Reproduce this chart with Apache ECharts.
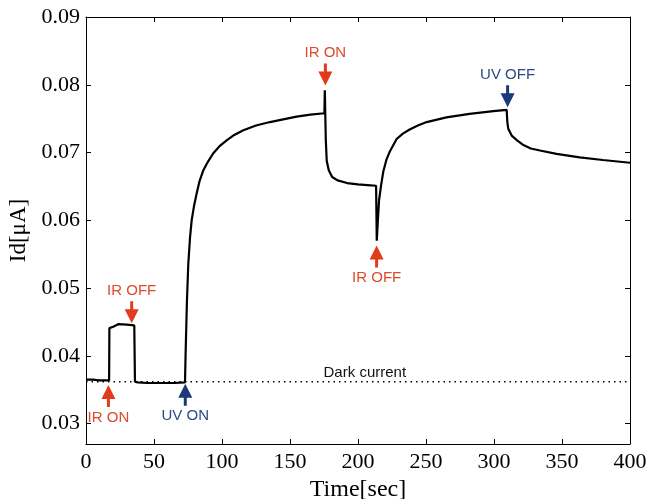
<!DOCTYPE html>
<html>
<head>
<meta charset="utf-8">
<script src="https://cdn.jsdelivr.net/npm/echarts@6.0.0/dist/echarts.min.js"></script>
<style>
  html, body { margin: 0; padding: 0; background: #fff; }
  #main { width: 648px; height: 499px; }
</style>
</head>
<body>
<div id="main"></div>
<script>
// 时间 (sec) 与 暗电流 Id (uA)
var times = [0, 5, 10, 17, 17.2, 20, 24, 30, 35.5, 36, 38, 45, 55, 65, 72.8,
  73.2, 74.2, 75.2, 76.5, 77.7, 79.5, 81.4, 83.5, 86.3, 89.5, 93.6, 98, 103.4, 109, 115.7,
  125, 135.3, 145, 154.9, 165, 175.3, 175.6, 176.3, 177, 178.5, 181, 185, 192, 200, 207, 213.3,
  213.8, 214.6, 215.5, 217, 218.6, 221, 223.5, 228.4, 233, 238, 244, 250.5, 265, 282, 299.5, 309.3,
  309.8, 310.5, 313, 317, 321.6, 327, 333.8, 346, 363, 380, 400];
var currents = [0.0365, 0.0365, 0.0364, 0.0364, 0.0441, 0.0443, 0.0447, 0.0446, 0.0445, 0.0362, 0.0361, 0.0360, 0.0360, 0.0360, 0.0361,
  0.0400, 0.0480, 0.0535, 0.0575, 0.0600, 0.0622, 0.0640, 0.0658, 0.0674, 0.0686, 0.0699, 0.0709, 0.0718, 0.0726, 0.0733,
  0.0740, 0.0745, 0.0749, 0.0753, 0.0756, 0.0758, 0.0792, 0.0720, 0.0688, 0.0674, 0.0664, 0.0659, 0.0655, 0.0653, 0.0652, 0.0651,
  0.0570, 0.0600, 0.0630, 0.0652, 0.0672, 0.0690, 0.0702, 0.0720, 0.0728, 0.0734, 0.0740, 0.0745, 0.0752, 0.0757, 0.0761, 0.0763,
  0.0745, 0.0735, 0.0725, 0.0718, 0.0711, 0.0706, 0.0703, 0.0698, 0.0693, 0.0689, 0.0685];

// 暗电流参考线
var darkTimes = [0, 400];
var darkCurrent = 0.0362;
var darkLabelTime = 205;
var yTicks = [0.03, 0.04, 0.05, 0.06, 0.07, 0.08, 0.09];

// 箭头标注
var arrowNames = ['IR ON', 'IR OFF', 'UV ON', 'IR ON', 'IR OFF', 'UV OFF'];
var arrowTimes = [16.5, 33.6, 73, 176, 213.7, 310];
var arrowTips = [0.0357, 0.0448, 0.0359, 0.0799, 0.0563, 0.0767];
var arrowDirs = ['up', 'down', 'up', 'down', 'up', 'down'];
var arrowColors = ['#e23b1c', '#e23b1c', '#1b3a7a', '#e23b1c', '#e23b1c', '#1b3a7a'];

var RED_TXT = '#dd4a2c', BLUE_TXT = '#2d4a80';
var downPath = 'path://M5.5,0 L8.5,0 L8.5,8 L14,8 L7,22 L0,8 L5.5,8 Z';
var upPath = 'path://M7,0 L14,14 L8.5,14 L8.5,22 L5.5,22 L5.5,14 L0,14 Z';

var lineData = times.map(function (t, i) { return [t, currents[i]]; });
var darkData = darkTimes.map(function (t) { return [t, darkCurrent]; });

var arrowPoints = arrowNames.map(function (n, i) {
  var down = arrowDirs[i] === 'down';
  var isRed = arrowColors[i] === '#e23b1c';
  return {
    name: n,
    coord: [arrowTimes[i], arrowTips[i]],
    symbol: down ? downPath : upPath,
    symbolSize: [14, 22],
    symbolKeepAspect: false,
    symbolOffset: [0, down ? -11 : 11],
    itemStyle: { color: arrowColors[i] },
    label: {
      show: true,
      formatter: n,
      position: down ? 'top' : 'bottom',
      distance: 3,
      color: isRed ? RED_TXT : BLUE_TXT,
      fontFamily: 'Liberation Sans',
      fontSize: 15
    }
  };
});

var serifFont = 'Liberation Serif';
var chart = echarts.init(document.getElementById('main'));

var option = {
  animation: false,
  backgroundColor: '#fff',
  grid: { left: 86, right: 18, top: 17, bottom: 55, outerBoundsMode: 'none', containLabel: false },
  xAxis: [
    {
      type: 'value', min: 0, max: 400, interval: 50,
      name: 'Time[sec]', nameLocation: 'middle', nameGap: 30,
      nameTextStyle: { fontFamily: serifFont, fontSize: 24, color: '#000' },
      axisLine: { show: true, onZero: false, lineStyle: { color: '#000', width: 1 } },
      axisTick: { show: true, inside: true, length: 5, lineStyle: { color: '#000' } },
      axisLabel: { fontFamily: serifFont, fontSize: 22, color: '#000', margin: 7 },
      splitLine: { show: false }
    },
    {
      type: 'value', min: 0, max: 400, interval: 50, position: 'top',
      axisLine: { show: true, onZero: false, lineStyle: { color: '#000', width: 1 } },
      axisTick: { show: true, inside: true, length: 5, lineStyle: { color: '#000' } },
      axisLabel: { show: false },
      splitLine: { show: false }
    }
  ],
  yAxis: [
    {
      type: 'value', min: 0.027, max: 0.09,
      name: 'Id[μA]', nameLocation: 'middle', nameGap: 52,
      nameTextStyle: { fontFamily: serifFont, fontSize: 23, color: '#000' },
      axisLine: { show: true, onZero: false, lineStyle: { color: '#000', width: 1 } },
      axisTick: { show: true, inside: true, length: 5, customValues: yTicks, lineStyle: { color: '#000' } },
      axisLabel: {
        fontFamily: serifFont, fontSize: 22, color: '#000', margin: 6,
        customValues: yTicks,
        formatter: function (v) { return v.toFixed(2); }
      },
      splitLine: { show: false }
    },
    {
      type: 'value', min: 0.027, max: 0.09, position: 'right',
      axisLine: { show: true, onZero: false, lineStyle: { color: '#000', width: 1 } },
      axisTick: { show: true, inside: true, length: 5, customValues: yTicks, lineStyle: { color: '#000' } },
      axisLabel: { show: false },
      splitLine: { show: false }
    }
  ],
  series: [
    {
      name: 'Dark current',
      type: 'line',
      data: darkData,
      showSymbol: false,
      symbol: 'none',
      silent: true,
      lineStyle: { color: '#000', type: [1.5, 4], width: 1.5 },
      z: 2,
      markPoint: {
        silent: true,
        symbol: 'circle',
        symbolSize: 1,
        itemStyle: { color: 'rgba(0,0,0,0)' },
        label: {
          show: true, formatter: 'Dark current', position: 'top', distance: 1,
          color: '#111', fontFamily: 'Liberation Sans', fontSize: 15
        },
        data: [{ coord: [darkLabelTime, darkCurrent] }]
      }
    },
    {
      name: 'Id',
      type: 'line',
      data: lineData,
      showSymbol: false,
      symbol: 'none',
      lineStyle: { color: '#000', width: 2.2 },
      z: 3,
      markPoint: {
        silent: true,
        data: arrowPoints
      }
    }
  ]
};

chart.setOption(option);
</script>
</body>
</html>
